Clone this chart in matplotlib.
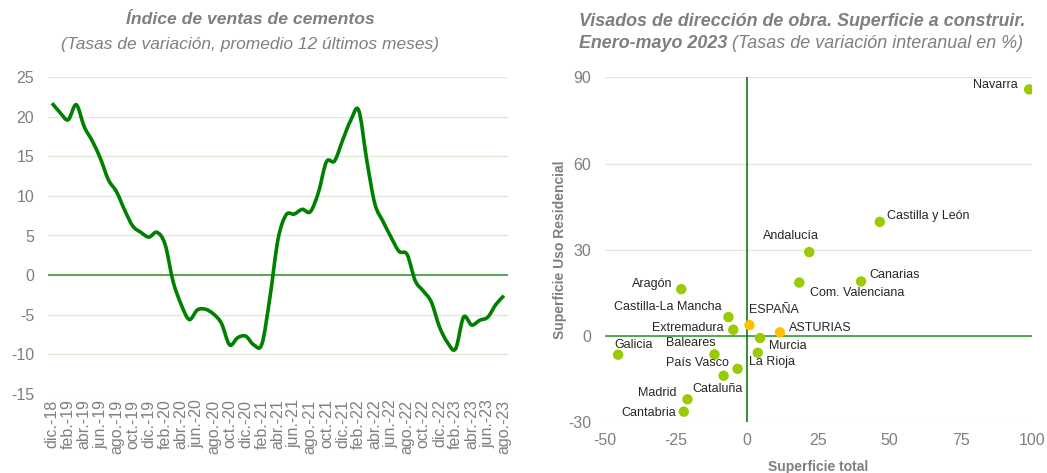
import matplotlib
matplotlib.use("Agg")
import matplotlib.pyplot as plt
from matplotlib.path import Path
from matplotlib.patches import PathPatch
import numpy as np

plt.rcParams['font.family'] = ['Liberation Sans', 'DejaVu Sans']
plt.rcParams['axes.unicode_minus'] = False

# left chart: cement sales index, monthly dic.-18 .. ago.-23
months = ['dic.-18', 'ene.-19', 'feb.-19', 'mar.-19', 'abr.-19', 'may.-19', 'jun.-19', 'jul.-19',
          'ago.-19', 'sep.-19', 'oct.-19', 'nov.-19', 'dic.-19', 'ene.-20', 'feb.-20', 'mar.-20',
          'abr.-20', 'may.-20', 'jun.-20', 'jul.-20', 'ago.-20', 'sep.-20', 'oct.-20', 'nov.-20',
          'dic.-20', 'ene.-21', 'feb.-21', 'mar.-21', 'abr.-21', 'may.-21', 'jun.-21', 'jul.-21',
          'ago.-21', 'sep.-21', 'oct.-21', 'nov.-21', 'dic.-21', 'ene.-22', 'feb.-22', 'mar.-22',
          'abr.-22', 'may.-22', 'jun.-22', 'jul.-22', 'ago.-22', 'sep.-22', 'oct.-22', 'nov.-22',
          'dic.-22', 'ene.-23', 'feb.-23', 'mar.-23', 'abr.-23', 'may.-23', 'jun.-23', 'jul.-23',
          'ago.-23']
ventas = [21.7, 20.5, 19.6, 21.5, 18.7, 16.9, 14.7, 12.0, 10.5, 8.2, 6.2, 5.4, 4.8, 5.4, 3.9,
          -0.8, -3.7, -5.6, -4.4, -4.3, -4.9, -6.1, -8.8, -7.9, -7.7, -8.8, -8.7, -2.8, 4.5,
          7.6, 7.7, 8.3, 8.0, 10.4, 14.3, 14.4, 17.0, 19.5, 20.8, 14.5, 9.0, 6.8, 4.8, 3.0,
          2.6, -0.7, -2.0, -3.4, -6.5, -8.5, -9.3, -5.3, -6.3, -5.7, -5.3, -3.7, -2.6]

# right chart: visados, superficie total vs residencial
regiones = ['Navarra', 'Castilla y León', 'Andalucía', 'Canarias', 'Com. Valenciana', 'Aragón',
            'Castilla-La Mancha', 'ESPAÑA', 'Extremadura', 'ASTURIAS', 'Murcia', 'Galicia',
            'Baleares', 'La Rioja', 'País Vasco', 'Cataluña', 'Madrid', 'Cantabria']
sup_total = [99.1, 46.6, 21.8, 40.0, 18.3, -23.2, -6.6, 0.8, -4.9, 11.5, 4.5, -45.4,
             -11.5, 3.7, -3.4, -8.3, -21.0, -22.3]
sup_resid = [85.8, 39.7, 29.2, 19.0, 18.6, 16.3, 6.6, 3.8, 2.2, 1.3, -0.7, -6.5,
             -6.4, -5.8, -11.4, -13.8, -22.0, -26.3]
destacadas = ['ESPAÑA', 'ASTURIAS']

# label offsets in pixels (dx, dy, ha)
offsets = {
    'Navarra': (-11, 4, 'right'), 'Castilla y León': (7, 6, 'left'),
    'Andalucía': (-18, 16, 'center'), 'Canarias': (8, 6, 'left'),
    'Com. Valenciana': (11, -10, 'left'), 'Aragón': (-9, 5, 'right'),
    'Castilla-La Mancha': (-7, 10, 'right'), 'ESPAÑA': (-1, 15, 'left'),
    'Extremadura': (-10, 2, 'right'), 'ASTURIAS': (9, 4, 'left'),
    'Murcia': (9, -8, 'left'), 'Galicia': (-4, 10, 'left'),
    'Baleares': (1, 11, 'right'), 'La Rioja': (-9, -9, 'left'),
    'País Vasco': (-9, 6, 'right'), 'Cataluña': (-6, -13, 'center'),
    'Madrid': (-11, 6, 'right'), 'Cantabria': (-8, -1, 'right'),
}

gray = '#7F7F7F'
grid_c = '#DCEBD6'

fig = plt.figure(figsize=(10.47, 4.73), dpi=100)

# ---- left chart
ax1 = fig.add_axes([48 / 1047, 79 / 473, 460 / 1047, 317 / 473])
x = np.arange(len(ventas))
y = np.array(ventas)
# Excel-like smoothed line (cubic bezier through the points)
verts = [(x[0], y[0])]
codes = [Path.MOVETO]
n = len(x)
for i in range(n - 1):
    p0 = max(i - 1, 0)
    p3 = min(i + 2, n - 1)
    c1 = (x[i] + (x[i + 1] - x[p0]) / 6, y[i] + (y[i + 1] - y[p0]) / 6)
    c2 = (x[i + 1] - (x[p3] - x[i]) / 6, y[i + 1] - (y[p3] - y[i]) / 6)
    verts += [c1, c2, (x[i + 1], y[i + 1])]
    codes += [Path.CURVE4] * 3
ax1.add_patch(PathPatch(Path(verts, codes), facecolor='none', edgecolor='#008000', lw=2.6, zorder=3))
ax1.set_xlim(-0.5, n - 0.5)
ax1.set_ylim(-15, 25)
ax1.set_yticks(range(-15, 26, 5))
ax1.set_xticks(x[::2])
ax1.set_xticklabels(months[::2], rotation=90)
for v in range(-15, 26, 5):
    ax1.axhline(v, color=grid_c, lw=1, zorder=1)
ax1.axhline(0, color='#3C9A3C', lw=1.2, zorder=2)
for s in ax1.spines.values():
    s.set_visible(False)
ax1.tick_params(length=0, colors=gray, labelsize=11.5)
ax1.tick_params(axis='x', pad=4)
ax1.tick_params(axis='y', pad=10)

fig.text(250 / 1047, 1 - 20 / 473, 'Índice de ventas de cementos', ha='center', va='center',
         fontsize=12.6, fontweight='bold', fontstyle='italic', color=gray)
fig.text(250 / 1047, 1 - 45 / 473, '(Tasas de variación, promedio 12 últimos meses)', ha='center',
         va='center', fontsize=12.5, fontstyle='italic', color=gray)

# ---- right chart
ax2 = fig.add_axes([605 / 1047, 50.7 / 473, 426.7 / 1047, 345 / 473])
ax2.set_xlim(-50, 100)
ax2.set_ylim(-30, 90)
ax2.set_xticks(range(-50, 101, 25))
ax2.set_yticks(range(-30, 91, 30))
for v in range(-30, 91, 30):
    ax2.axhline(v, color=grid_c, lw=1, zorder=1)
ax2.axhline(0, color='#3C9A3C', lw=1.2, zorder=2)
ax2.axvline(0, color='#107A10', lw=1.2, zorder=2)
for s in ax2.spines.values():
    s.set_visible(False)
ax2.tick_params(length=0, colors=gray, labelsize=11.5)
ax2.tick_params(axis='x', pad=8)
ax2.tick_params(axis='y', pad=10)

cols = ['#FFC000' if r in destacadas else '#99CC00' for r in regiones]
ax2.scatter(sup_total, sup_resid, s=56, c=cols, edgecolors='none', zorder=4)
for r, xv, yv in zip(regiones, sup_total, sup_resid):
    dx, dy, ha = offsets[r]
    ax2.annotate(r, (xv, yv), xytext=(dx * 0.72, dy * 0.72), textcoords='offset points',
                 ha=ha, va='center', fontsize=9, color='#262626', zorder=5)

ax2.set_xlabel('Superficie total', fontsize=10, fontweight='bold', color=gray, labelpad=8)
ax2.set_ylabel('Superficie Uso Residencial', fontsize=10, fontweight='bold', color=gray, labelpad=1)

fig.text(579 / 1047, 1 - 21 / 473, 'Visados de dirección de obra. Superficie a construir.',
         ha='left', va='center', fontsize=12.9, fontweight='bold', fontstyle='italic', color=gray)
t1 = fig.text(579 / 1047, 1 - 43 / 473, 'Enero-mayo 2023', ha='left', va='center',
              fontsize=12.9, fontweight='bold', fontstyle='italic', color=gray)
fig.canvas.draw()
bb = t1.get_window_extent()
fig.text(bb.x1 / fig.bbox.width, 1 - 43 / 473, ' (Tasas de variación interanual en %)',
         ha='left', va='center', fontsize=12.9, fontstyle='italic', color=gray)

fig.savefig('out.png', dpi=100)
